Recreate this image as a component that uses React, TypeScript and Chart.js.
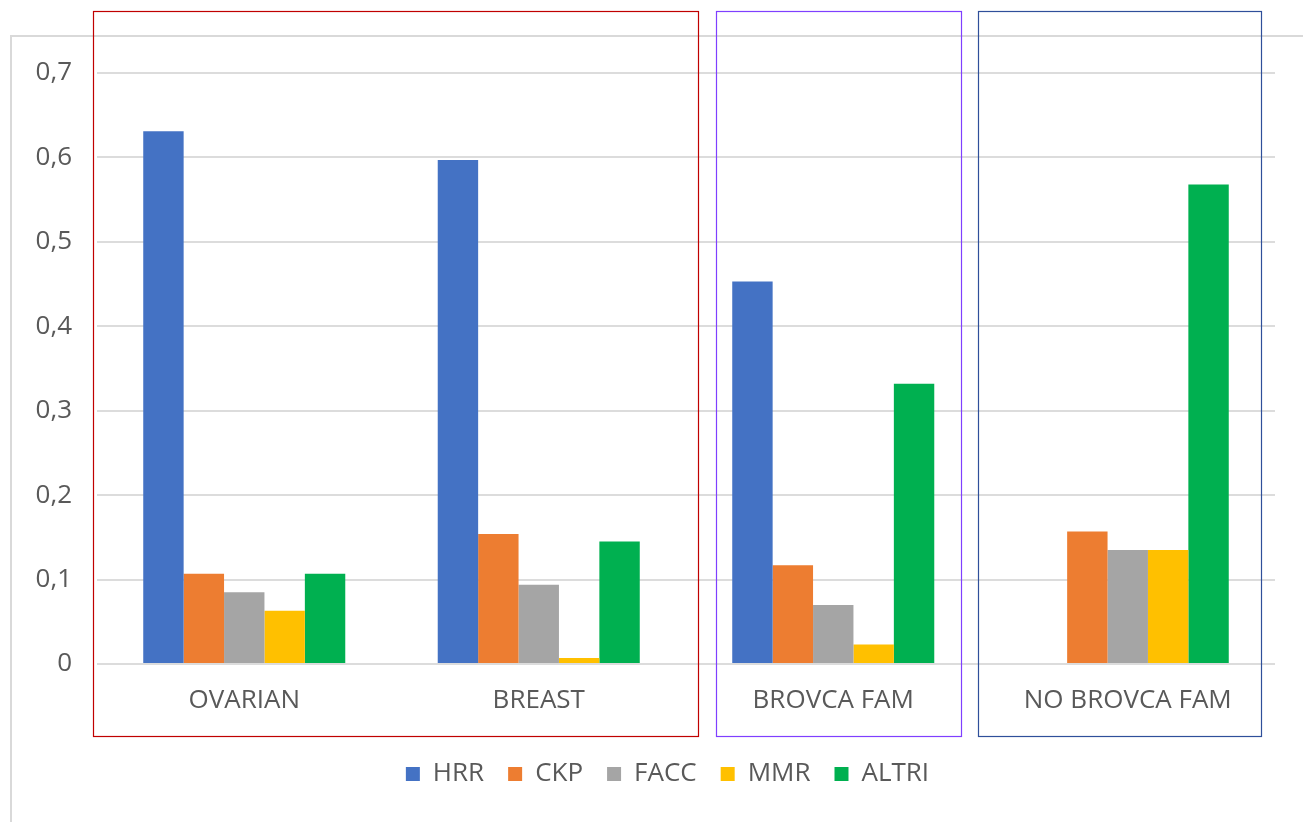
import React, { useEffect, useRef } from "react";
import { Chart, registerables } from "chart.js";

Chart.register(...registerables);

const categories = ["OVARIAN", "BREAST", "BROVCA FAM", "NO BROVCA FAM"];
const seriesNames = ["HRR", "CKP", "FACC", "MMR", "ALTRI"];
const hrr = [0.631, 0.597, 0.453, 0];
const ckp = [0.107, 0.154, 0.117, 0.157];
const facc = [0.085, 0.094, 0.07, 0.135];
const mmr = [0.063, 0.007, 0.023, 0.135];
const altri = [0.107, 0.145, 0.332, 0.568];
const seriesColors = ["#4472C4", "#ED7D31", "#A5A5A5", "#FFC000", "#00B050"];
const yTicks = [0, 0.1, 0.2, 0.3, 0.4, 0.5, 0.6, 0.7];

// annotation boxes around groups of categories (first index, last index, colour, edge offsets)
const groupBoxes = [
  { from: 0, to: 1, color: "#C00000", padL: -4, padR: 12 },
  { from: 2, to: 2, color: "#7F3FFF", padL: 30, padR: -20 },
  { from: 3, to: 3, color: "#2F4F9A", padL: -3, padR: -15 },
];

const FONT = "'Open Sans', sans-serif";
const TEXT = "#595959";

export default function App() {
  const ref = useRef<HTMLCanvasElement | null>(null);

  useEffect(() => {
    document.body.style.margin = "0";
    const frame = {
      id: "frame",
      afterLayout(chart: any) {
        if (chart.legend) {
          chart.legend.left += 21;
          chart.legend.right += 21;
        }
      },
      beforeDraw(chart: any) {
        const ctx = chart.ctx;
        ctx.save();
        ctx.strokeStyle = "#D9D9D9";
        ctx.lineWidth = 2;
        ctx.beginPath();
        ctx.moveTo(11, chart.height);
        ctx.lineTo(11, 36);
        ctx.lineTo(chart.width, 36);
        ctx.stroke();
        ctx.restore();
      },
    };
    const boxes = {
      id: "boxes",
      afterDraw(chart: any) {
        const ctx = chart.ctx;
        const xs = chart.scales.x;
        const w = (xs.right - xs.left) / categories.length;
        ctx.save();
        ctx.lineWidth = 1.2;
        groupBoxes.forEach((b) => {
          const l = xs.getPixelForValue(b.from) - w / 2 + b.padL;
          const r = xs.getPixelForValue(b.to) + w / 2 + b.padR;
          ctx.strokeStyle = b.color;
          ctx.strokeRect(Math.round(l) + 0.5, 11.5, Math.round(r - l), 725);
        });
        ctx.restore();
      },
    };
    const data = [hrr, ckp, facc, mmr, altri];
    const chart = new Chart(ref.current as HTMLCanvasElement, {
      type: "bar",
      data: {
        labels: categories,
        datasets: seriesNames.map((n, i) => ({
          label: n,
          data: data[i],
          backgroundColor: seriesColors[i],
          borderWidth: 0,
          barPercentage: 1,
          categoryPercentage: 0.686,
        })),
      },
      options: {
        animation: false,
        responsive: true,
        maintainAspectRatio: false,
        layout: { padding: { left: 18, right: 28, top: 73, bottom: 25 } },
        plugins: {
          tooltip: { enabled: false },
          legend: {
            position: "bottom",
            labels: {
              boxWidth: 14,
              boxHeight: 14,
              padding: 24,
              color: TEXT,
              font: { family: FONT, size: 26 },
            },
          },
        },
        scales: {
          x: {
            grid: { display: false, drawTicks: false },
            border: { display: false },
            ticks: { color: TEXT, font: { family: FONT, size: 26 }, padding: 21, maxRotation: 0 },
            afterFit(scale: any) {
              scale.height = 73;
            },
          },
          y: {
            min: 0,
            max: 0.7,
            afterBuildTicks(scale: any) {
              scale.ticks = yTicks.map((v) => ({ value: v }));
            },
            afterFit(scale: any) {
              scale.width = 79;
            },
            grid: { color: "#DCDCDC", lineWidth: 2, drawTicks: false },
            border: { display: false },
            ticks: {
              color: TEXT,
              font: { family: FONT, size: 26 },
              padding: 25,
              callback: (v: any) => (Number(v) === 0 ? "0" : Number(v).toFixed(1).replace(".", ",")),
            },
          },
        },
      },
      plugins: [frame, boxes],
    } as any);
    return () => chart.destroy();
  }, []);

  return (
    <div style={{ position: "relative", width: 1303, height: 822 }}>
      <canvas ref={ref} />
    </div>
  );
}
